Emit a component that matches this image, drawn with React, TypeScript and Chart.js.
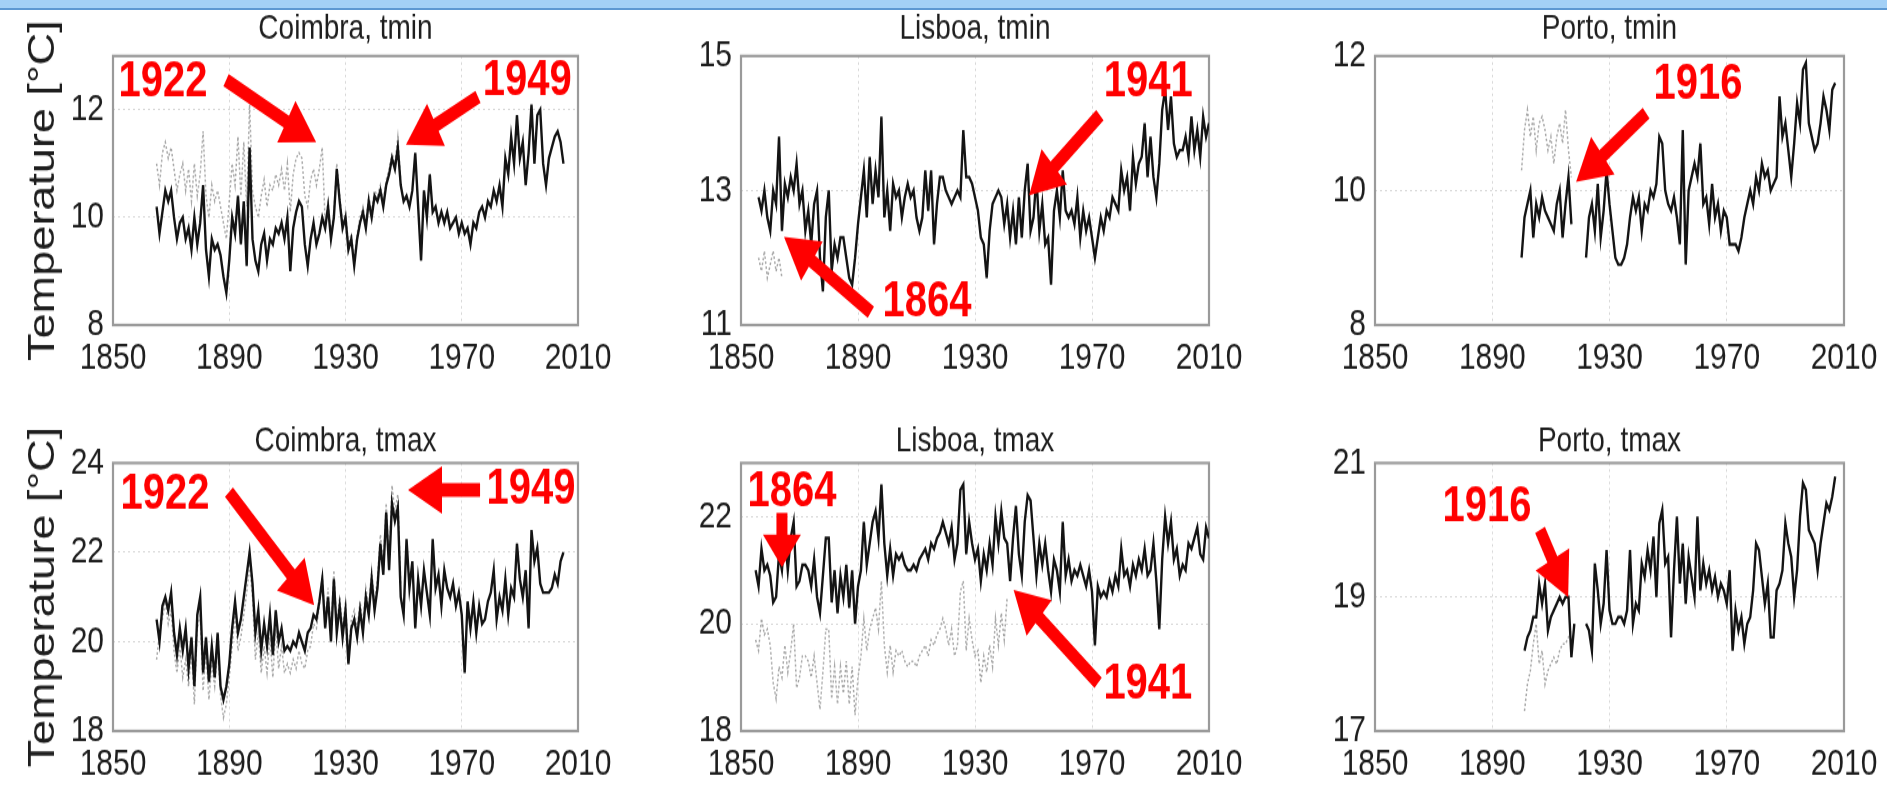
import React, { useEffect, useRef } from "react";
import { Chart, registerables } from "chart.js";

Chart.register(...registerables);

const FONT = '"Liberation Sans", Arial, Helvetica, sans-serif';

// ---------- tick labels ----------
const xTicks = [1850, 1890, 1930, 1970, 2010];
const cmTminTicks = [8, 10, 12];
const lsTminTicks = [11, 13, 15];
const ptTminTicks = [8, 10, 12];
const cmTmaxTicks = [18, 20, 22, 24];
const lsTmaxTicks = [18, 20, 22];
const ptTmaxTicks = [17, 19, 21];

// ---------- Coimbra tmin ----------
const CM_TMIN_START = 1865;
const cmTminHom = [
  10.2, 9.7, 10.1, 10.5, 10.3,
  10.5, 10.0, 9.6, 9.9, 10.0, 9.6, 9.8, 9.4, 10.0, 9.5,
  9.9, 10.6, 9.4, 8.9, 9.6, 9.4, 9.5, 9.3, 8.9, 8.6,
  9.2, 10.0, 9.7, 10.4, 9.5, 10.3, 9.1, 11.3, 9.6, 9.2,
  9.0, 9.5, 9.7, 9.2, 9.6, 9.5, 9.8, 9.7, 9.9, 9.6,
  10.0, 9.0, 9.8, 10.1, 10.3, 10.2, 9.5, 9.1, 9.6, 9.9,
  9.5, 9.7, 10.0, 9.8, 10.2, 9.6, 10.0, 10.9, 10.3, 9.8,
  10.0, 9.4, 9.6, 9.1, 9.6, 9.9, 10.1, 9.8, 10.3, 10.0,
  10.4, 10.3, 10.5, 10.2, 10.6, 10.8, 11.1, 10.9, 11.3, 10.6,
  10.3, 10.4, 10.2, 10.5, 11.2, 10.2, 9.2, 10.5, 10.0, 10.8,
  10.1, 10.2, 9.9, 10.1, 9.9, 10.1, 9.8, 9.9, 10.0, 9.7,
  9.9, 9.7, 9.8, 9.5, 9.9, 9.8, 10.1, 10.2, 10.0, 10.3,
  10.2, 10.5, 10.3, 10.6, 10.2, 11.1, 10.8, 11.5, 11.0, 11.9,
  11.1, 11.4, 10.6, 11.2, 12.1, 11.0, 11.9, 12.0, 11.0, 10.6,
  11.1, 11.3, 11.5, 11.6, 11.4, 11.0,
];
const cmTminRaw = [
  11.0, 10.6, 11.2, 11.4, 11.1,
  11.3, 10.9, 10.5, 10.8, 11.0, 10.5, 10.9, 10.3, 11.0, 10.4,
  10.8, 11.6, 10.4, 10.0, 10.6, 10.3, 10.5, 10.2, 9.9, 9.6,
  10.3, 11.0, 10.6, 11.5, 10.4, 11.4, 10.2, 12.1, 10.5, 10.2,
  10.0, 10.4, 10.7, 10.2, 10.6, 10.5, 10.8, 10.6, 10.9, 10.5,
  11.0, 10.1, 10.8, 11.1, 11.2, 11.1, 10.4, 10.2, 10.7, 10.9,
  10.6, 10.9, 11.3, 9.9, 10.3, 9.7, 10.1, 11.0, 10.4, 9.9,
  10.1, 9.5, 9.7, 9.2, 9.7, 10.0, 10.2, 9.9, 10.4, 10.1,
  10.5, 10.4, 10.6, 10.3, 10.7, 10.9, 11.2, 11.0, 11.5, 10.7,
];

// ---------- Lisboa tmin ----------
const LS_TMIN_START = 1856;
const lsTminHom = [
  12.9, 12.7, 13.0, 12.6,
  12.4, 13.0, 12.8, 13.8, 12.4, 13.1, 12.9, 13.2, 13.0, 13.4,
  12.8, 13.0, 12.4, 12.7, 12.2, 12.8, 13.0, 12.0, 11.5, 12.6,
  13.0, 11.8, 12.2, 12.0, 12.3, 12.3, 12.0, 11.7, 11.6, 12.0,
  12.5, 12.9, 13.3, 12.6, 13.5, 12.8, 13.3, 12.9, 14.1, 12.6,
  13.0, 12.4, 13.1, 12.9, 13.0, 12.6, 12.9, 13.1, 12.9, 13.0,
  12.6, 12.4, 12.6, 13.3, 12.7, 13.3, 12.2, 12.8, 13.2, 13.2,
  13.0, 12.9, 12.8, 12.9, 13.0, 12.9, 13.9, 13.2, 13.2, 13.1,
  12.9, 12.7, 12.3, 12.2, 11.7, 12.4, 12.8, 12.9, 13.0, 12.9,
  12.5, 12.8, 12.3, 12.7, 12.2, 12.9, 12.3, 13.0, 13.4, 12.4,
  12.6, 13.2, 12.4, 12.8, 12.2, 12.3, 11.6, 12.7, 13.0, 12.6,
  13.3, 12.7, 12.6, 12.7, 12.5, 12.9, 12.3, 12.7, 12.4, 12.6,
  12.3, 12.0, 12.3, 12.6, 12.4, 12.7, 12.6, 12.9, 12.8, 12.7,
  13.3, 13.0, 13.2, 12.7, 13.5, 13.1, 13.4, 13.5, 14.0, 13.2,
  13.8, 13.2, 12.9, 13.4, 14.2, 14.5, 13.9, 14.4, 13.7, 13.5,
  13.6, 13.6, 13.8, 13.5, 14.1, 13.6, 13.9, 13.5, 14.1, 13.8, 14.0,
];
const lsTminRaw = [12.0, 11.8, 12.1, 11.7, 11.9, 12.1, 11.8, 12.0, 11.7];

// ---------- Porto tmin ----------
const PT_TMIN_START = 1900;
const ptTminHom = [
  9.0, 9.6, 9.8, 10.0, 9.3, 9.8, 9.6, 9.9, 9.7, 9.6,
  9.5, 9.4, 9.8, 10.0, 9.3, 9.8, 10.2, 9.5, null, null,
  null, null, 9.0, 9.6, 9.8, 9.4, 10.1, 9.3, 9.7, 10.3,
  9.8, 9.4, 9.0, 8.9, 8.9, 9.0, 9.2, 9.6, 9.9, 9.7,
  9.9, 9.4, 9.8, 9.7, 10.0, 9.9, 10.1, 10.8, 10.7, 10.0,
  9.8, 9.7, 9.9, 9.6, 9.2, 10.9, 8.9, 10.0, 10.2, 10.4,
  10.2, 10.7, 9.8, 9.9, 9.5, 10.1, 9.6, 9.8, 9.4, 9.7,
  9.6, 9.2, 9.2, 9.2, 9.1, 9.3, 9.6, 9.8, 10.0, 9.8,
  10.2, 10.0, 10.4, 10.2, 10.3, 10.0, 10.1, 10.2, 11.4, 10.8,
  11.0, 10.6, 10.2, 10.7, 11.3, 11.0, 11.8, 11.9, 11.0, 10.8,
  10.6, 10.7, 11.0, 11.4, 11.2, 10.9, 11.5, 11.6,
];
const ptTminRaw = [
  10.3, 10.9, 11.2, 10.8, 11.1, 10.6, 11.0, 11.1, 10.9, 10.6,
  10.8, 10.4, 10.8, 11.0, 10.7, 11.2, 10.6, 10.2,
];

// ---------- Coimbra tmax ----------
const CM_TMAX_START = 1865;
const cmTmaxHom = [
  20.5, 20.0, 20.8, 21.0, 20.7,
  21.1, 20.2, 19.7, 20.3, 19.8, 20.3, 19.4, 20.1, 19.0, 20.6,
  21.0, 19.3, 20.1, 19.1, 19.9, 19.2, 20.2, 19.0, 18.7, 19.0,
  19.5, 20.3, 20.9, 20.2, 20.5, 21.0, 21.5, 22.0, 21.3, 20.2,
  20.7, 19.8, 20.4, 19.9, 20.6, 19.7, 20.7, 20.0, 20.3, 19.8,
  19.9, 19.8, 20.0, 19.9, 20.2, 20.0, 19.8, 20.2, 20.3, 20.6,
  20.5, 20.9, 21.4, 20.3, 21.0, 20.0, 21.4, 20.2, 20.8, 20.1,
  20.7, 19.5, 20.3, 20.5, 20.1, 20.7, 20.2, 21.0, 20.6, 21.4,
  20.7, 21.2, 22.2, 21.5, 22.9, 21.6, 23.1, 22.7, 23.0, 21.0,
  20.6, 22.3, 21.2, 21.8, 20.3, 21.4, 20.8, 21.6, 21.1, 20.6,
  22.3, 21.2, 21.5, 20.8, 21.6, 21.2, 21.0, 21.3, 20.8, 21.1,
  20.6, 19.3, 20.9, 20.3, 20.9, 20.2, 20.8, 20.4, 20.5, 20.9,
  21.1, 21.6, 20.5, 21.0, 20.7, 21.4, 20.6, 21.2, 21.0, 22.2,
  21.4, 21.0, 21.6, 20.3, 22.5, 21.8, 22.1, 21.3, 21.1, 21.1,
  21.1, 21.2, 21.5, 21.3, 21.8, 22.0,
];
const cmTmaxRaw = [
  19.6, 20.2, 20.5, 20.9, 20.4,
  20.7, 19.8, 19.3, 19.9, 19.2, 19.6, 19.0, 19.8, 18.6, 20.3,
  20.6, 18.9, 19.8, 18.7, 19.5, 19.0, 19.8, 18.8, 18.3, 18.6,
  19.2, 19.9, 20.6, 19.8, 20.1, 20.6, 21.1, 21.7, 21.0, 19.6,
  20.2, 19.3, 19.9, 19.3, 20.1, 19.2, 20.3, 19.4, 19.9, 19.3,
  19.5, 19.3, 19.6, 19.4, 19.8, 19.5, 19.4, 19.8, 19.9, 20.4,
  20.3, 20.8, 21.5, 20.5, 21.2, 20.2, 21.6, 20.4, 21.0, 20.3,
  20.9, 19.7, 20.5, 20.7, 20.3, 20.9, 20.4, 21.2, 20.8, 21.6,
  20.9, 21.4, 22.4, 21.7, 23.1, 21.8, 23.5, 22.9, 23.3, 21.3,
];

// ---------- Lisboa tmax ----------
const LS_TMAX_START = 1855;
const lsTmaxHom = [
  21.0, 20.7, 21.4, 21.0, 21.1,
  20.9, 20.4, 20.5, 21.3, 21.0, 21.7, 21.0, 21.6, 21.9, 20.7,
  20.8, 21.1, 21.1, 21.0, 20.7, 21.2, 20.5, 20.2, 20.9, 21.6,
  21.6, 20.4, 21.0, 20.2, 20.9, 20.5, 21.1, 20.3, 21.0, 20.0,
  20.7, 21.0, 21.9, 21.1, 21.5, 21.9, 22.1, 21.6, 22.6, 21.5,
  20.9, 21.4, 20.9, 21.3, 21.2, 21.3, 21.1, 21.0, 21.0, 21.1,
  21.0, 21.2, 21.3, 21.4, 21.2, 21.5, 21.4, 21.6, 21.7, 21.9,
  21.7, 21.5, 21.8, 21.2, 21.5, 22.5, 22.6, 21.3, 21.9, 21.5,
  21.2, 21.4, 20.8, 21.3, 21.0, 21.5, 21.1, 22.0, 21.5, 22.1,
  21.6, 21.5, 20.8, 21.6, 22.2, 21.3, 20.9, 21.9, 22.4, 22.3,
  21.6, 20.9, 21.5, 21.1, 21.5, 21.0, 20.6, 21.2, 21.0, 20.6,
  21.9, 20.9, 21.2, 20.8, 21.0, 20.9, 21.1, 20.9, 20.7, 21.0,
  20.6, 19.6, 20.7, 20.5, 20.6, 20.5, 20.8, 20.6, 20.9, 20.7,
  21.4, 20.9, 21.0, 20.7, 21.1, 20.9, 21.2, 21.0, 21.4, 20.9,
  21.0, 21.5, 20.8, 19.9, 21.2, 22.0, 21.5, 21.9, 21.2, 21.4,
  20.9, 21.1, 21.0, 21.5, 21.4, 21.6, 21.8, 21.3, 21.2, 21.8, 21.6,
];
const lsTmaxRaw = [
  19.7, 19.5, 20.1, 19.8, 19.9,
  19.6, 18.9, 18.6, 19.2, 19.0, 19.6, 19.1, 19.5, 20.0, 18.8,
  19.0, 19.4, 19.4, 19.3, 19.0, 19.4, 18.9, 18.4, 19.1, 19.9,
  19.9, 18.6, 19.2, 18.5, 19.2, 18.7, 19.3, 18.5, 19.2, 18.3,
  19.0, 19.4, 20.1, 19.5, 19.9, 20.1, 20.3, 19.9, 20.8, 19.6,
  19.1, 19.6, 19.1, 19.5, 19.4, 19.5, 19.3, 19.2, 19.3, 19.3,
  19.2, 19.4, 19.5, 19.6, 19.4, 19.7, 19.6, 19.8, 19.9, 20.1,
  19.9, 19.6, 19.9, 19.4, 19.6, 20.6, 20.8, 19.5, 20.1, 19.7,
  19.4, 19.5, 18.9, 19.4, 19.1, 19.6, 19.2, 20.1, 19.6, 20.2,
  19.7, 20.5,
];

// ---------- Porto tmax ----------
const PT_TMAX_START = 1901;
const ptTmaxHom = [
  18.2, 18.4, 18.5, 18.7, 18.7, 19.2, 18.9, 19.2, 18.5,
  18.7, 18.8, 18.9, 19.0, 18.9, 19.0, 19.0, 18.1, 18.6, null,
  null, null, 18.6, 18.5, 18.2, 19.5, 19.1, 18.6, 18.9, 19.7,
  18.8, 18.6, 18.6, 18.7, 18.7, 18.6, 18.8, 19.7, 18.6, 18.9,
  18.8, 19.5, 19.3, 19.7, 19.4, 19.9, 19.0, 20.1, 20.3, 19.5,
  19.6, 18.4, 19.4, 20.2, 19.2, 19.8, 18.9, 19.6, 19.3, 19.0,
  20.2, 19.1, 19.5, 19.2, 19.4, 19.1, 19.3, 19.0, 19.2, 19.1,
  18.9, 19.4, 18.2, 18.8, 18.5, 18.7, 18.3, 18.6, 18.7, 19.1,
  19.8, 19.7, 19.3, 18.9, 19.2, 18.4, 18.4, 19.1, 19.2, 19.4,
  20.1, 19.8, 19.6, 19.0, 19.4, 20.2, 20.7, 20.6, 20.0, 19.9,
  19.8, 19.4, 19.8, 20.1, 20.4, 20.3, 20.5, 20.8,
];
const ptTmaxRaw = [
  17.3, 17.7, 17.9, 18.3, 18.6, 18.0, 18.2, 17.7, 17.9,
  18.0, 18.1, 18.0, 18.2, 18.3, 18.3, 18.4, 18.5,
];

// ---------- annotations (label, label centre, arrow tail, arrow tip; data units) ----------
const cmTminNotes = [
  { label: "1922", tx: 1867.2, ty: 12.5, ax: 1888.9, ay: 12.55, bx: 1919.9, by: 11.4 },
  { label: "1949", tx: 1992.5, ty: 12.52, ax: 1975.6, ay: 12.24, bx: 1950.8, by: 11.35 },
];
const lsTminNotes = [
  { label: "1941", tx: 1989.2, ty: 14.61, ax: 1972.7, ay: 14.12, bx: 1948.5, by: 12.93 },
  { label: "1864", tx: 1913.6, ty: 11.33, ax: 1894.4, ay: 11.19, bx: 1864.7, by: 12.31 },
];
const ptTminNotes = [
  { label: "1916", tx: 1960.2, ty: 11.57, ax: 1942.5, ay: 11.15, bx: 1918.6, by: 10.13 },
];
const cmTmaxNotes = [
  { label: "1922", tx: 1867.9, ty: 23.28, ax: 1889.9, ay: 23.35, bx: 1919.2, by: 20.82 },
  { label: "1949", tx: 1993.8, ty: 23.4, ax: 1976.3, ay: 23.4, bx: 1951.5, by: 23.4 },
];
const lsTmaxNotes = [
  { label: "1864", tx: 1867.4, ty: 22.46, ax: 1864.0, ay: 22.07, bx: 1864.0, by: 21.06 },
  { label: "1941", tx: 1989.1, ty: 18.86, ax: 1972.1, ay: 18.9, bx: 1943.2, by: 20.63 },
];
const ptTmaxNotes = [
  { label: "1916", tx: 1888.2, ty: 20.34, ax: 1906.3, ay: 20.0, bx: 1915.9, by: 19.0 },
];

// ---------- layout ----------
const STRETCH = 1.25;
const COLS = [
  { cx: 0, cw: 640, L: 113, R: 578 },
  { cx: 640, cw: 630, L: 741, R: 1209 },
  { cx: 1270, cw: 617, L: 1375, R: 1844 },
];
const ROWS = [
  { cy: 10, ch: 385, T: 56, B: 325, tY: 29 },
  { cy: 395, ch: 406, T: 463, B: 731, tY: 441 },
];

const toPts = (start: number, vals: (number | null)[]) =>
  vals.map((v, i) => ({ x: start + i, y: v }));

const PANELS = [
  { title: "Coimbra, tmin", col: 0, row: 0, yMin: 8, yMax: 13, yTicks: cmTminTicks, black: toPts(CM_TMIN_START, cmTminHom), gray: toPts(CM_TMIN_START, cmTminRaw), notes: cmTminNotes },
  { title: "Lisboa, tmin", col: 1, row: 0, yMin: 11, yMax: 15, yTicks: lsTminTicks, black: toPts(LS_TMIN_START, lsTminHom), gray: toPts(LS_TMIN_START, lsTminRaw), notes: lsTminNotes },
  { title: "Porto, tmin", col: 2, row: 0, yMin: 8, yMax: 12, yTicks: ptTminTicks, black: toPts(PT_TMIN_START, ptTminHom), gray: toPts(PT_TMIN_START, ptTminRaw), notes: ptTminNotes },
  { title: "Coimbra, tmax", col: 0, row: 1, yMin: 18, yMax: 24, yTicks: cmTmaxTicks, black: toPts(CM_TMAX_START, cmTmaxHom), gray: toPts(CM_TMAX_START, cmTmaxRaw), notes: cmTmaxNotes },
  { title: "Lisboa, tmax", col: 1, row: 1, yMin: 18, yMax: 23, yTicks: lsTmaxTicks, black: toPts(LS_TMAX_START, lsTmaxHom), gray: toPts(LS_TMAX_START, lsTmaxRaw), notes: lsTmaxNotes },
  { title: "Porto, tmax", col: 2, row: 1, yMin: 17, yMax: 21, yTicks: ptTmaxTicks, black: toPts(PT_TMAX_START, ptTmaxHom), gray: toPts(PT_TMAX_START, ptTmaxRaw), notes: ptTmaxNotes },
];

function drawArrow(ctx: CanvasRenderingContext2D, x1: number, y1: number, x2: number, y2: number) {
  const dx = x2 - x1;
  const dy = y2 - y1;
  const len = Math.hypot(dx, dy) || 1;
  const ux = dx / len;
  const uy = dy / len;
  const px = -uy;
  const py = ux;
  const head = Math.min(34, len * 0.6);
  const hw = 19;
  const bx = x2 - ux * head;
  const by = y2 - uy * head;
  ctx.beginPath();
  ctx.lineWidth = 11;
  ctx.lineCap = "butt";
  ctx.moveTo(x1, y1);
  ctx.lineTo(bx + ux * 2, by + uy * 2);
  ctx.stroke();
  ctx.beginPath();
  ctx.moveTo(x2, y2);
  ctx.lineTo(bx + px * hw, by + py * hw);
  ctx.lineTo(bx - px * hw, by - py * hw);
  ctx.closePath();
  ctx.fill();
}

function Panel({ p }: { p: (typeof PANELS)[number] }) {
  const ref = useRef<HTMLCanvasElement>(null);
  const col = COLS[p.col];
  const row = ROWS[p.row];
  const hAttr = Math.round(row.ch / STRETCH);
  const s = row.ch / hAttr;

  useEffect(() => {
    const canvas = ref.current;
    if (!canvas) return;

    const framePlugin = {
      id: "frame",
      beforeDatasetsDraw(chart: any) {
        const { ctx, chartArea: a } = chart;
        ctx.save();
        ctx.strokeStyle = "#9a9a9a";
        ctx.lineWidth = 2.2;
        ctx.strokeRect(a.left, a.top, a.right - a.left, a.bottom - a.top);
        ctx.restore();
      },
    };

    const notesPlugin = {
      id: "notes",
      afterDatasetsDraw(chart: any) {
        const { ctx } = chart;
        const xs = chart.scales.x;
        const ys = chart.scales.y;
        ctx.save();
        ctx.fillStyle = "#ff0000";
        ctx.strokeStyle = "#ff0000";
        for (const n of p.notes) {
          drawArrow(
            ctx,
            xs.getPixelForValue(n.ax),
            ys.getPixelForValue(n.ay),
            xs.getPixelForValue(n.bx),
            ys.getPixelForValue(n.by)
          );
          ctx.font = `bold 40px ${FONT}`;
          ctx.textAlign = "center";
          ctx.textBaseline = "middle";
          ctx.fillText(n.label, xs.getPixelForValue(n.tx), ys.getPixelForValue(n.ty));
        }
        ctx.restore();
      },
    };

    const titlePlugin = {
      id: "paneltitle",
      afterDraw(chart: any) {
        const { ctx, chartArea: a } = chart;
        ctx.save();
        ctx.fillStyle = "#1e1e1e";
        ctx.font = `28px ${FONT}`;
        ctx.textAlign = "center";
        ctx.textBaseline = "middle";
        ctx.fillText(p.title, (a.left + a.right) / 2, (row.tY - row.cy) / s);
        ctx.restore();
      },
    };

    const tickFont = { size: 30, family: FONT };

    const chart = new Chart(canvas, {
      type: "line",
      data: {
        datasets: [
          {
            data: p.black as any,
            borderColor: "#141414",
            borderWidth: 2.4,
            pointRadius: 0,
            tension: 0,
            spanGaps: false,
          },
          {
            data: p.gray as any,
            borderColor: "#a8a8a8",
            borderWidth: 1.5,
            borderDash: [2, 2],
            pointRadius: 0,
            tension: 0,
          },
        ],
      },
      options: {
        responsive: false,
        animation: false,
        devicePixelRatio: 1,
        events: [],
        layout: {
          padding: {
            left: 0,
            top: (row.T - row.cy) / s,
            right: col.cx + col.cw - col.R,
            bottom: 0,
          },
        },
        plugins: {
          legend: { display: false },
          tooltip: { enabled: false },
          title: { display: false },
        },
        scales: {
          x: {
            type: "linear",
            min: 1850,
            max: 2010,
            afterBuildTicks: (sc: any) => {
              sc.ticks = xTicks.map((v) => ({ value: v }));
            },
            afterFit: (sc: any) => {
              sc.height = hAttr - (row.B - row.cy) / s;
            },
            grid: { color: "#d6d6d6", lineWidth: 1, drawTicks: false },
            border: { display: false, dash: [2, 3] },
            ticks: {
              padding: 9,
              maxRotation: 0,
              minRotation: 0,
              autoSkip: false,
              color: "#1e1e1e",
              font: tickFont,
              callback: (v: any) => String(v),
            },
          },
          y: {
            type: "linear",
            min: p.yMin,
            max: p.yMax,
            afterBuildTicks: (sc: any) => {
              sc.ticks = p.yTicks.map((v) => ({ value: v }));
            },
            afterFit: (sc: any) => {
              sc.width = col.L - col.cx;
            },
            grid: { color: "#d6d6d6", lineWidth: 1, drawTicks: false },
            border: { display: false, dash: [2, 3] },
            ticks: {
              padding: 9,
              color: "#1e1e1e",
              font: tickFont,
              callback: (v: any) => String(v),
            },
            title: {
              display: p.col === 0,
              text: "Temperature [°C]",
              color: "#1e1e1e",
              font: { size: 36, family: FONT },
              padding: { top: 22, bottom: 0 },
            },
          },
        },
      } as any,
      plugins: [framePlugin, notesPlugin, titlePlugin],
    });

    return () => chart.destroy();
  }, []);

  return (
    <canvas
      ref={ref}
      width={col.cw}
      height={hAttr}
      style={{
        position: "absolute",
        left: col.cx,
        top: row.cy,
        width: col.cw,
        height: row.ch,
        display: "block",
      }}
    />
  );
}

export default function App() {
  return (
    <div
      style={{
        position: "fixed",
        left: 0,
        top: 0,
        width: 1887,
        height: 801,
        background: "#ffffff",
        overflow: "hidden",
      }}
    >
      <div style={{ position: "absolute", left: 0, top: 0, width: 1887, height: 8, background: "#a3d0f6" }} />
      <div style={{ position: "absolute", left: 0, top: 8, width: 1887, height: 2, background: "#5d98d2" }} />
      {PANELS.map((p) => (
        <Panel key={p.title} p={p} />
      ))}
    </div>
  );
}
